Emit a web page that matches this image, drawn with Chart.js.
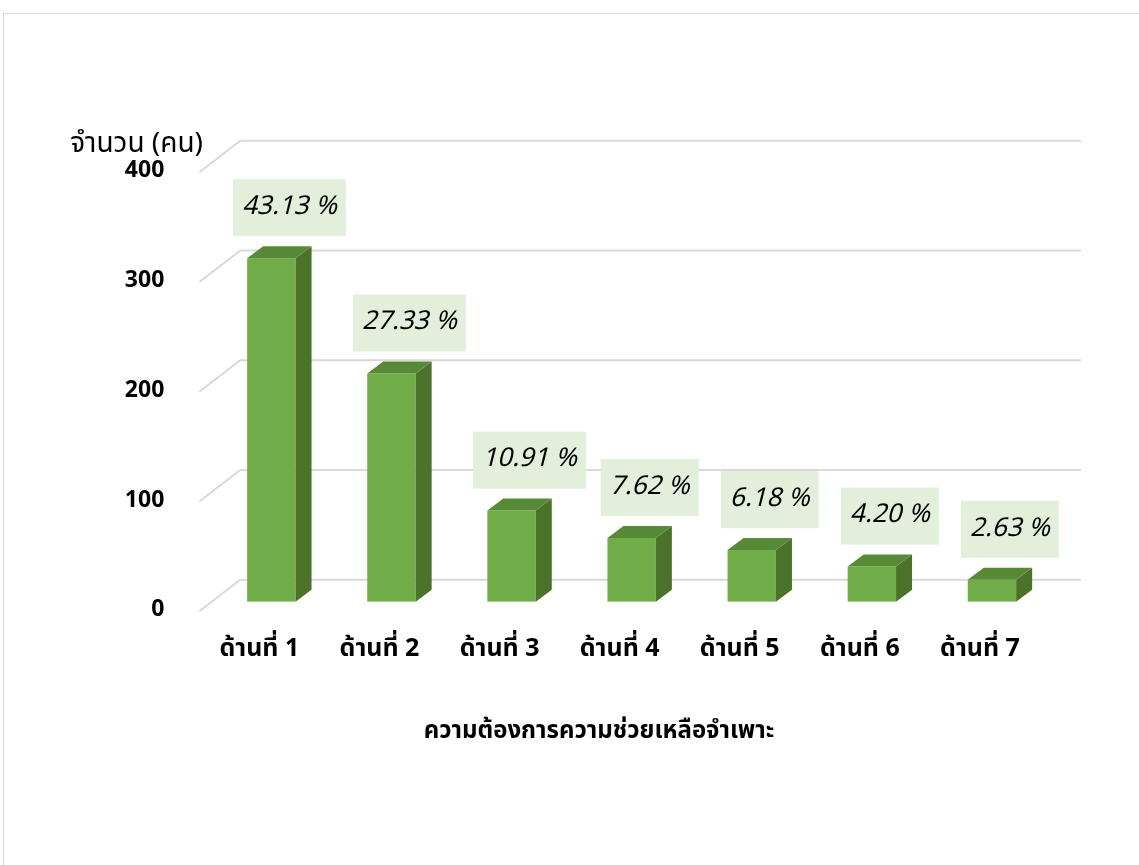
<!DOCTYPE html>
<html>
<head>
<meta charset="utf-8">
<script src="https://cdn.jsdelivr.net/npm/chart.js@4.4.1/dist/chart.umd.min.js"></script>
<style>
  html, body { margin: 0; padding: 0; background: #ffffff; }
  #wrap { position: relative; width: 1139px; height: 865px; }
</style>
</head>
<body>
<div id="wrap"><canvas id="c" width="1139" height="865"></canvas></div>
<script>
const categories = ['ด้านที่ 1', 'ด้านที่ 2', 'ด้านที่ 3', 'ด้านที่ 4', 'ด้านที่ 5', 'ด้านที่ 6', 'ด้านที่ 7'];
const counts = [313, 208, 83, 58, 47, 32, 20];
const percentLabels = ['43.13 %', '27.33 %', '10.91 %', '7.62 %', '6.18 %', '4.20 %', '2.63 %'];
const yTickValues = [0, 100, 200, 300, 400];
const yAxisTitle = 'จำนวน (คน)';
const xAxisTitle = 'ความต้องการความช่วยเหลือจำเพาะ';

const FONT = "Tahoma, 'Noto Sans Thai', Loma, Garuda, 'Noto Sans', 'DejaVu Sans', sans-serif";
const FRONT = '#70ad47', SIDE = '#4a7229', TOP = '#578a37';
const GRID = '#d9d9d9';
const BACK_DX = 29, BACK_DY = -22, FRONT_DX = -12, FRONT_DY = 9.5;
const DEPTH_DX = 16, DEPTH_DY = -12;

const deco = {
  id: 'deco',
  beforeDraw(chart) {
    const ctx = chart.ctx;
    ctx.save();
    ctx.fillStyle = '#ffffff';
    ctx.fillRect(0, 0, chart.width, chart.height);
    ctx.strokeStyle = GRID;
    ctx.lineWidth = 1;
    ctx.strokeRect(3.5, 13.5, chart.width + 20, chart.height + 20);
    ctx.restore();
  },
  beforeDatasetsDraw(chart) {
    const ctx = chart.ctx, ca = chart.chartArea, ys = chart.scales.y;
    ctx.save();
    ctx.strokeStyle = GRID;
    ctx.lineWidth = 2;
    yTickValues.forEach(v => {
      const y = ys.getPixelForValue(v);
      ctx.beginPath();
      ctx.moveTo(ca.left + FRONT_DX, y + FRONT_DY);
      ctx.lineTo(ca.left + BACK_DX, y + BACK_DY);
      ctx.lineTo(ca.right + BACK_DX, y + BACK_DY);
      ctx.stroke();
    });
    ctx.restore();
  },
  afterDatasetsDraw(chart) {
    const ctx = chart.ctx;
    const meta = chart.getDatasetMeta(0);
    ctx.save();
    meta.data.forEach((bar, i) => {
      const w = bar.width, l = bar.x - w / 2, r = bar.x + w / 2, t = bar.y, b = bar.base;
      ctx.fillStyle = SIDE;
      ctx.beginPath();
      ctx.moveTo(r, t); ctx.lineTo(r + DEPTH_DX, t + DEPTH_DY);
      ctx.lineTo(r + DEPTH_DX, b + DEPTH_DY); ctx.lineTo(r, b);
      ctx.closePath(); ctx.fill();
      ctx.fillStyle = TOP;
      ctx.beginPath();
      ctx.moveTo(l, t); ctx.lineTo(l + DEPTH_DX, t + DEPTH_DY);
      ctx.lineTo(r + DEPTH_DX, t + DEPTH_DY); ctx.lineTo(r, t);
      ctx.closePath(); ctx.fill();
    });
    // data labels
    ctx.font = "italic 26px " + FONT;
    ctx.textAlign = 'center';
    ctx.textBaseline = 'middle';
    meta.data.forEach((bar, i) => {
      const txt = percentLabels[i];
      const tw = ctx.measureText(txt).width;
      const bw = tw + 18, bh = 57;
      const cx = bar.x + 18;
      const bottom = bar.y - 22;
      ctx.fillStyle = '#e2efda';
      ctx.fillRect(cx - bw / 2, bottom - bh, bw, bh);
      ctx.fillStyle = '#000000';
      ctx.fillText(txt, cx, bottom - bh / 2 + 1);
    });
    ctx.restore();
  },
  afterDraw(chart) {
    const ctx = chart.ctx;
    ctx.save();
    ctx.fillStyle = '#000000';
    ctx.font = "28px " + FONT;
    ctx.textAlign = 'right';
    ctx.textBaseline = 'middle';
    ctx.fillText(yAxisTitle, 203, 146);
    ctx.font = "bold 24px " + FONT;
    ctx.textAlign = 'center';
    ctx.fillText(xAxisTitle, 599, 733);
    ctx.restore();
  }
};

new Chart(document.getElementById('c'), {
  type: 'bar',
  data: {
    labels: categories,
    datasets: [{
      data: counts,
      backgroundColor: FRONT,
      borderWidth: 0,
      barPercentage: 0.403,
      categoryPercentage: 1.0
    }]
  },
  options: {
    responsive: false,
    animation: false,
    events: [],
    layout: { padding: { left: 0, right: 87, top: 162.7, bottom: 163.3 } },
    plugins: { legend: { display: false }, tooltip: { enabled: false }, title: { display: false } },
    scales: {
      x: {
        grid: { display: false, drawTicks: false },
        border: { display: false },
        ticks: {
          font: { family: FONT, size: 25, weight: 'bold' },
          color: '#000000',
          padding: 34,
          labelOffset: -12,
          maxRotation: 0,
          autoSkip: false
        },
        afterFit(s) { s.height = 100; }
      },
      y: {
        min: 0, max: 400,
        grid: { display: false, drawTicks: false },
        border: { display: false },
        ticks: {
          stepSize: 100,
          font: { family: FONT, size: 23, weight: 'bold' },
          color: '#000000',
          padding: 47,
          labelOffset: 10
        },
        afterFit(s) { s.width = 211.3; }
      }
    }
  },
  plugins: [deco]
});
</script>
</body>
</html>
